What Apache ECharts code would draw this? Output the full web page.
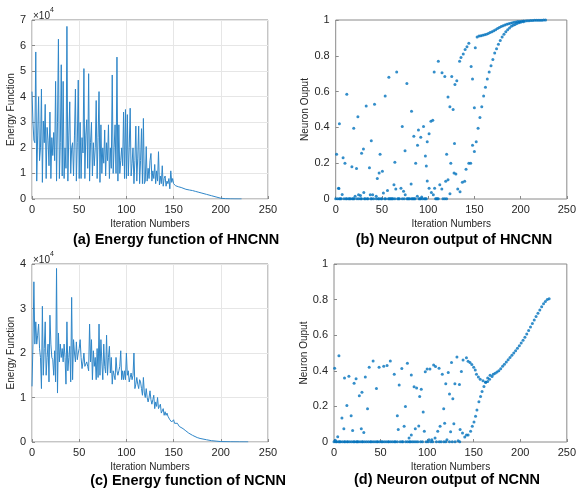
<!DOCTYPE html>
<html><head><meta charset="utf-8">
<script src="https://cdn.jsdelivr.net/npm/echarts@6/dist/echarts.min.js"></script>
<style>html,body{margin:0;padding:0;background:#fff}#c{width:579px;height:494px}</style>
</head><body><div id="c"></div>
<script>
// ---------- data ----------
const xTickLabels = ['0','50','100','150','200','250'];
const energyTickA = ['0','1','2','3','4','5','6','7'];
const energyTickC = ['0','1','2','3','4'];
const neuronTick = ['0','0.2','0.4','0.6','0.8','1'];

// (a) Energy function of HNCNN  [iteration, value x10^4]
const energyHNCNN = [
[0,4.2],[1,3.0],[2,2.3],[3,2.2],[4,5.75],[5,0.7],[6,2.5],[7,4.0],[8,1.5],[9,2.0],[10,4.3],[11,0.65],[12,3.05],[13,2.2],[14,3.7],[15,0.8],[16,2.8],[17,2.3],[18,1.3],[19,3.4],[20,0.8],[21,2.4],[22,1.7],[23,2.6],[24,1.5],[25,4.6],[26,0.7],[27,3.0],[28,6.25],[29,0.8],[30,2.2],[31,5.25],[32,0.9],[33,4.6],[34,0.8],[35,2.0],[36,1.2],[37,6.75],[38,0.7],[39,2.5],[40,3.8],[41,1.0],[42,2.0],[43,2.2],[44,0.9],[45,2.5],[46,4.3],[47,0.7],[48,2.2],[49,4.65],[50,0.8],[51,3.0],[52,0.8],[53,2.4],[54,1.8],[55,5.1],[56,0.8],[57,2.5],[58,3.1],[59,1.2],[60,4.9],[61,0.7],[62,2.2],[63,3.0],[64,0.9],[65,2.2],[66,1.3],[67,2.0],[68,3.85],[69,0.8],[70,2.4],[71,4.2],[72,0.65],[73,2.9],[74,1.0],[75,2.0],[76,1.4],[77,2.7],[78,0.9],[79,2.2],[80,1.5],[81,2.9],[82,0.8],[83,2.0],[84,1.2],[85,4.85],[86,1.0],[87,2.0],[88,2.9],[89,1.0],[90,5.55],[91,0.7],[92,2.9],[93,1.0],[94,1.5],[95,2.0],[96,1.3],[97,3.4],[98,0.8],[99,3.5],[100,0.8],[101,3.3],[102,0.9],[103,2.0],[104,3.55],[105,0.9],[106,1.4],[107,2.0],[108,0.6],[109,1.5],[110,2.85],[111,0.7],[112,1.6],[113,2.85],[114,0.6],[115,1.5],[116,2.75],[117,0.6],[118,3.15],[119,0.6],[120,0.7],[121,2.05],[122,0.7],[123,1.2],[124,0.8],[125,1.5],[126,1.78],[127,0.7],[128,1.1],[129,0.8],[130,1.35],[131,0.6],[132,1.1],[133,0.7],[134,1.85],[135,0.55],[136,0.9],[137,0.6],[138,1.3],[139,0.5],[140,0.8],[141,0.9],[142,0.5],[143,0.7],[144,0.6],[145,0.8],[146,0.4],[147,1.1],[148,0.65],[149,0.8],[150,0.6],[151,0.55],[152,0.52],[155,0.48],[158,0.45],[160,0.42],[163,0.38],[165,0.4],[167,0.35],[170,0.33],[173,0.3],[176,0.27],[180,0.23],[185,0.18],[190,0.13],[195,0.08],[200,0.03],[205,0.012],[210,0.005],[215,0.002],[222,0.001]
];

// (c) Energy function of NCNN  [iteration, value x10^4]
const energyNCNN = [
[0,1.25],[1,2.2],[2,3.6],[3,2.2],[4,2.7],[5,2.2],[6,2.4],[7,2.65],[8,2.1],[9,1.9],[10,1.2],[11,3.05],[12,1.5],[13,2.1],[14,2.7],[15,1.5],[16,1.9],[17,2.2],[18,1.35],[19,2.85],[20,2.2],[21,1.9],[22,1.85],[23,1.5],[24,2.05],[25,1.35],[26,3.9],[27,1.1],[28,2.45],[29,1.8],[30,2.2],[31,1.9],[32,2.1],[33,1.8],[34,2.2],[35,1.9],[36,1.3],[37,2.7],[38,1.6],[39,1.9],[40,2.15],[41,1.35],[42,3.25],[43,1.4],[44,2.3],[45,2.0],[46,1.8],[47,2.25],[48,1.85],[49,2.0],[50,2.1],[51,2.3],[52,1.9],[53,1.65],[54,1.8],[55,2.0],[56,1.7],[57,1.75],[58,1.8],[59,1.7],[60,1.6],[61,2.65],[62,1.8],[63,2.3],[64,1.4],[65,2.05],[66,1.7],[67,1.9],[68,1.4],[69,2.1],[70,1.45],[71,2.65],[72,1.5],[73,2.3],[74,1.8],[75,1.4],[76,2.2],[77,1.7],[78,1.55],[79,2.4],[80,1.5],[81,1.9],[82,2.15],[83,1.55],[84,1.9],[85,1.3],[86,1.6],[87,1.5],[88,1.4],[89,1.9],[90,1.6],[91,1.5],[92,1.6],[93,1.7],[94,2.05],[95,1.4],[96,1.6],[97,1.4],[98,1.6],[99,1.4],[100,2.0],[101,1.5],[102,1.6],[103,1.35],[104,1.45],[105,1.55],[106,1.4],[107,1.5],[108,2.0],[109,1.2],[110,1.3],[111,1.45],[112,1.3],[113,1.2],[114,1.4],[115,1.35],[116,1.2],[117,1.05],[118,1.45],[119,1.1],[120,1.0],[121,1.2],[122,1.0],[123,0.9],[124,1.0],[125,1.15],[126,0.95],[127,0.85],[128,0.95],[129,1.05],[130,0.75],[131,0.9],[132,0.8],[133,1.0],[134,0.75],[135,0.8],[136,0.85],[137,0.65],[138,0.7],[139,0.75],[140,0.6],[141,0.68],[142,0.6],[143,0.65],[144,0.58],[145,0.55],[146,0.5],[147,0.48],[148,0.45],[149,0.47],[150,0.5],[151,0.42],[152,0.38],[153,0.4],[154,0.42],[155,0.38],[156,0.35],[157,0.32],[158,0.34],[160,0.3],[162,0.28],[163,0.25],[165,0.23],[166,0.2],[168,0.18],[170,0.15],[172,0.13],[175,0.1],[178,0.08],[180,0.07],[185,0.05],[190,0.03],[195,0.02],[200,0.01],[210,0.005],[220,0.003],[229,0.002]
];

// (b) Neuron output of HNCNN  [iteration, output]
const neuronHNCNN = [
[1,0.25],[3,0.06],[4,0.42],[7,0.025],[8,0.23],[10,0.2],[12,0.585],[17.5,0.18],[19.5,0.395],[22.5,0.17],[24,0.46],[28,0.255],[30,0.28],[33,0.52],[36.5,0.175],[38.5,0.325],[42,0.53],[45,0.115],[47,0.145],[48,0.25],[50.5,0.155],[53.5,0.575],[57.5,0.68],[64,0.205],[66,0.71],[72,0.405],[75,0.27],[77,0.645],[82,0.49],[84.5,0.35],[86.5,0.2],[88.5,0.3],[89.5,0.385],[92,0.345],[95,0.405],[97,0.24],[98,0.185],[99,0.32],[101,0.365],[103,0.435],[105,0.44],[106.5,0.71],[111,0.77],[115,0.705],[118,0.685],[120,0.25],[121.5,0.57],[123.5,0.515],[124.5,0.2],[125.5,0.685],[127,0.5],[128.5,0.31],[129,0.64],[131,0.66],[134,0.77],[135.5,0.79],[138,0.81],[140,0.835],[142,0.85],[144,0.87],[146.5,0.74],[148,0.67],[150,0.51],[151,0.845],
[3.5,0.058],[21,0.015],[24.7,0.024],[26.8,0.02],[30.4,0.037],[37.4,0.024],[40,0.024],[43.8,0.015],[51.6,0.033],[56,0.048],[63,0.08],[65,0.056],[70.6,0.06],[73.4,0.043],[75.2,0.024],[81.6,0.084],[88.3,0.015],[93,0.011],[99,0.1],[101,0.06],[103.5,0.037],[105.6,0.024],[107,0.06],[112.6,0.08],[114.8,0.056],[119,0.099],[121.5,0.108],[123.6,0.03],[128,0.145],[130,0.14],[132,0.056],[134.5,0.04],[137,0.093],[139.5,0.099],[141,0.166],[144,0.2],
[146,0.2],[148,0.3],[150,0.265],[152,0.32],[154,0.395],[156,0.455],[158,0.515],[160,0.575],[162,0.625],[164,0.67],[166,0.71],[168,0.745],[170,0.78],[172,0.815],[174,0.84],[176,0.865],[178,0.885],[180,0.905],[182,0.92],[184,0.935],[186,0.945],[188,0.955],[190,0.965],[192,0.97],[194,0.975],[196,0.98],[198,0.985],[200,0.988],[203,0.99],
[153,0.905],[155,0.91],[157,0.912],[159,0.915],[161,0.917],[163,0.92],[165,0.925],[167,0.93],[169,0.935],[171,0.94],[173,0.946],[175,0.952],[177,0.958],[179,0.963],[181,0.968],[183,0.972],[185,0.976],[187,0.979],[189,0.982],[191,0.985],[193,0.987],[195,0.989],[197,0.991],[199,0.992],[201,0.993],[203,0.994],[205,0.995],[207,0.996],[209,0.996],[211,0.997],[213,0.997],[215,0.998],[217,0.998],[219,0.999],[221,0.999],[223,0.999],[225,1.0],[227,1.0]
];
const neuronHNCNNZeroIters = [0,2,4,5,6,9,11,12,14,15,16,18,19,20,23,25,27,28,31,32,34,35,38,39,41,44,46,47,49,50,53,54,57,58,59,60,61,62,64,67,68,69,72,74,77,78,79,80,82,83,84,85,86,90,91,92,94,96,97,98,108,109,110,111,116,118,120];

// (d) Neuron output of NCNN  [iteration, output]
const neuronNCNN = [
[0.7,0.415],[1.4,0.01],[4,0.03],[5.3,0.485],[8.5,0.135],[10.6,0.075],[11.3,0.36],[13.8,0.205],[16,0.37],[18.4,0.148],[20,0.065],[21.6,0.33],[23.7,0.355],[27.2,0.26],[29.3,0.075],[30,0.28],[32,0.054],[33.6,0.365],[36,0.187],[37.8,0.42],[42,0.455],[45.6,0.3],[48.4,0.42],[53.4,0.425],[57,0.43],[60.5,0.455],[64.7,0.38],[68,0.148],[69,0.07],[70,0.32],[72.8,0.413],[75.3,0.088],[76.7,0.2],[78.8,0.443],[80.6,0.022],[83,0.376],[83,0.04],[86,0.31],[87.3,0.075],[88.7,0.303],[91,0.09],[92,0.256],[93.7,0.297],[95.8,0.168],[97,0.06],[98,0.394],[100,0.41],[102,0.013],[103,0.41],[105,0.013],[107,0.432],[108.5,0.022],[109,0.424],[111.4,0.06],[112.8,0.415],[113.9,0.088],[116.3,0.38],[117.8,0.187],[118.8,0.106],[120,0.327],[121.3,0.013],[122.7,0.39],[124,0.27],[125.2,0.058],[126.2,0.447],[127.6,0.243],[128.7,0.103],[129.8,0.327],[132,0.478],[133.3,0.007],[134.7,0.323],[135.4,0.07],[136.8,0.396],[138,0.05],[138.6,0.46],[140.4,0.028],[142.2,0.473],[142.2,0.04],[144,0.454],
[146,0.447],[148,0.435],[150,0.42],[151.7,0.405],[153,0.38],[155,0.365],[157,0.353],[160,0.344],[162.7,0.336],[165,0.34],[167,0.353],
[144,0.04],[146.7,0.06],[148.5,0.088],[150.3,0.112],[152,0.144],[153.5,0.18],[155.6,0.226],[157.4,0.256],[159,0.284],[161,0.312],[163,0.335],[165,0.359],[167.6,0.375],
[169.7,0.368],[171,0.38],[173,0.386],[175,0.393],[177,0.4],[179,0.412],[181,0.425],[183,0.437],[185,0.45],[187,0.462],[189,0.475],[191,0.488],[193,0.5],[195,0.513],[197,0.527],[199,0.541],[201,0.556],[203,0.572],[205,0.589],[207,0.607],[209,0.626],[211,0.646],[213,0.666],[215,0.686],[217,0.705],[219,0.724],[221,0.742],[223,0.76],[225,0.776],[227,0.79],[229,0.8],[231,0.805]
];
const neuronNCNNZeroIters = [0,2,3,5,6,7,9,11,12,14,15,17,19,21,22,24,25,26,28,30,31,33,35,37,39,40,42,44,46,47,49,51,52,54,56,58,59,61,63,65,66,68,71,73,74,77,79,81,82,84,86,88,90,93,95,99,101,104,106,110,113,115,118,120,124,127,130,135];

// ---------- chart ----------
const FONT = '"Liberation Sans", Arial, Helvetica, sans-serif';
const LINE = '#2f86c8';
const DOT = '#0072BD';
const BORDER = '#8a8a8a';
const TXT = '#262626';

const grids = [
  {left:32, top:20, width:236, height:179},
  {left:335.7, top:20, width:236, height:179},
  {left:32, top:264, width:236, height:178},
  {left:334, top:264, width:236, height:178}
].map(g => Object.assign({show:true, borderColor:BORDER, borderWidth:1, backgroundColor:'#fff'}, g));

function xAx(i, grid) {
  return {
    type:'value', gridIndex:i, min:0, max:250, interval:50,
    name:'Iteration Numbers', nameLocation:'middle', nameGap:20,
    nameTextStyle:{fontFamily:FONT, fontSize:10, color:TXT},
    axisLine:{show:false},
    axisTick:{show:true, inside:true, length:3, lineStyle:{color:BORDER}},
    axisLabel:{fontFamily:FONT, fontSize:11, color:TXT, margin:5,
      formatter:(v)=>xTickLabels[Math.round(v/50)]},
    splitLine:{show:grid, lineStyle:{color:'#e6e6e6', width:1}}
  };
}
function yAx(i, name, max, interval, labels, gap, grid) {
  return {
    type:'value', gridIndex:i, min:0, max:max, interval:interval,
    name:name, nameLocation:'middle', nameGap:gap,
    nameTextStyle:{fontFamily:FONT, fontSize:10, color:TXT},
    axisLine:{show:false},
    axisTick:{show:true, inside:true, length:3, lineStyle:{color:BORDER}},
    axisLabel:{fontFamily:FONT, fontSize:11, color:TXT, margin:6,
      formatter:(v)=>labels[Math.round(v/interval)]},
    splitLine:{show:grid, lineStyle:{color:'#e6e6e6', width:1}}
  };
}

const toZeros = its => its.map(x => [x, 0.002]);

const option = {
  animation:false,
  backgroundColor:'#fff',
  grid: grids,
  xAxis: [xAx(0,true), xAx(1,false), xAx(2,true), xAx(3,false)],
  yAxis: [
    yAx(0,'Energy Function',7,1,energyTickA,14,true),
    yAx(1,'Neuron Ouput',1,0.2,neuronTick,23,false),
    yAx(2,'Energy Function',4,1,energyTickC,14,true),
    yAx(3,'Neuron Ouput',1,0.2,neuronTick,22,false)
  ],
  series: [
    {type:'line', xAxisIndex:0, yAxisIndex:0, data:energyHNCNN, showSymbol:false, symbol:'none',
     lineStyle:{color:LINE, width:1}},
    {type:'scatter', xAxisIndex:1, yAxisIndex:1, data:neuronHNCNN.concat(toZeros(neuronHNCNNZeroIters)),
     symbolSize:3, itemStyle:{color:DOT}, clip:false},
    {type:'line', xAxisIndex:2, yAxisIndex:2, data:energyNCNN, showSymbol:false, symbol:'none',
     lineStyle:{color:LINE, width:1}},
    {type:'scatter', xAxisIndex:3, yAxisIndex:3, data:neuronNCNN.concat(toZeros(neuronNCNNZeroIters)),
     symbolSize:3, itemStyle:{color:DOT}, clip:false}
  ],
  graphic: [
    {type:'text', left:33, top:7, style:{text:'{a|×10}{b|4}', rich:{
      a:{fontFamily:FONT, fontSize:10, fill:TXT, verticalAlign:'bottom', padding:[4,0,0,0]},
      b:{fontFamily:FONT, fontSize:7, fill:TXT, verticalAlign:'top'}}}},
    {type:'text', left:33, top:251, style:{text:'{a|×10}{b|4}', rich:{
      a:{fontFamily:FONT, fontSize:10, fill:TXT, verticalAlign:'bottom', padding:[4,0,0,0]},
      b:{fontFamily:FONT, fontSize:7, fill:TXT, verticalAlign:'top'}}}},
    {type:'text', x:176, y:240, style:{text:'(a) Energy function of HNCNN', font:'bold 14.5px '+FONT, fill:'#000', textAlign:'center', textVerticalAlign:'middle'}},
    {type:'text', x:454, y:240, style:{text:'(b) Neuron output of HNCNN', font:'bold 14.5px '+FONT, fill:'#000', textAlign:'center', textVerticalAlign:'middle'}},
    {type:'text', x:188, y:481, style:{text:'(c) Energy function of NCNN', font:'bold 14.5px '+FONT, fill:'#000', textAlign:'center', textVerticalAlign:'middle'}},
    {type:'text', x:447, y:480, style:{text:'(d) Neuron output of NCNN', font:'bold 14.5px '+FONT, fill:'#000', textAlign:'center', textVerticalAlign:'middle'}}
  ]
};

const chart = echarts.init(document.getElementById('c'), null, {renderer:'canvas'});
chart.setOption(option);
</script>
</body></html>
